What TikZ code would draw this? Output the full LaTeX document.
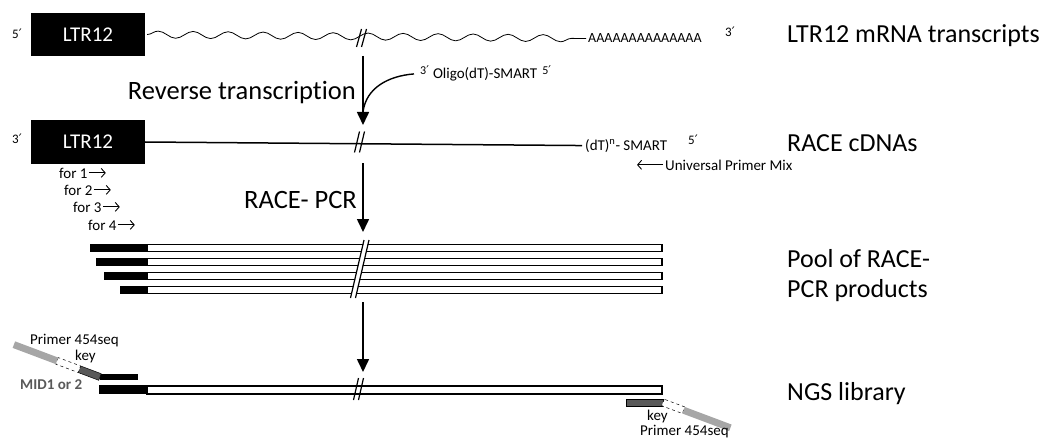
\documentclass[tikz,border=0pt]{standalone}
\usepackage{fontspec}
\setmainfont{Carlito}[Ligatures=NoCommon]
\newfontfamily\primefont{DejaVu Sans}
\newcommand{\prm}{{\primefont\char"2032}}
\usetikzlibrary{arrows.meta,decorations.pathmorphing}
\definecolor{adlight}{HTML}{A6A6A6}
\definecolor{addark}{HTML}{595959}
\begin{document}
\begin{tikzpicture}[x=1pt, y=-1pt, inner sep=0pt,
  ltrbox/.style={fill=black, text=white, minimum width=114pt, minimum height=43pt, font=\fontsize{21}{25}\selectfont},
  stagetitle/.style={anchor=base west, font=\fontsize{26}{30}\selectfont},
  steplabel/.style={anchor=base east, font=\fontsize{26.5}{30}\selectfont},
  lbl/.style={anchor=base west, font=\fontsize{15}{18}\selectfont},
  endlbl/.style={anchor=base west, font=\fontsize{13}{15}\selectfont},
  flow/.style={line width=1.6pt, -{Triangle[length=13pt, width=12pt]}},
  primer/.style={line width=0.9pt, -{Straight Barb[length=4pt, width=9pt]}},
  slash/.style={line width=1.2pt}]
  \useasboundingbox (0,0) rectangle (1049,441);
  % mRNA transcripts
  \node[ltrbox] (ltrA) at (88,34.5) {LTR12};
  \node[endlbl] (fiveA) at (12,39) {5\prm};
  \node[lbl, font=\fontsize{14}{16}\selectfont] (polyA) at (588,43) {AAAAAAAAAAAAAA};
  \node[endlbl] (threeA) at (725,37) {3\prm};
  \draw[line width=0.8pt, decorate, decoration={snake, segment length=35pt, amplitude=3.5pt}] ([xshift=2pt]ltrA.east) -- ([xshift=-2pt]polyA.west);
  \node[stagetitle] (tMrna) at (787,43) {LTR12 mRNA transcripts};
  % reverse transcription
  \coordinate (rtStart) at (363,56);
  \coordinate (rtEnd) at (363,125);
  \draw[flow] (rtStart) -- (rtEnd);
  \node[steplabel] (rtLabel) at (356,100) {Reverse transcription};
  \node[lbl, inner xsep=6pt] (oligo) at (414,79) {\raisebox{4pt}{\fontsize{12}{14}\selectfont 3\prm}\hspace{4pt}Oligo(dT)-SMART\hspace{5pt}\raisebox{4pt}{\fontsize{12}{14}\selectfont 5\prm}};
  \coordinate (oligoJoin) at (363,112);
  \draw[line width=1.4pt] (oligo.west) .. controls (388,76) and (366,88) .. (oligoJoin);
  % RACE cDNAs
  \node[ltrbox] (ltrB) at (88,142) {LTR12};
  \node[endlbl] (threeB) at (12,143) {3\prm};
  \node[lbl] (smart) at (585,150) {(dT)\textsuperscript{n}- SMART};
  \node[endlbl] (fiveB) at (688,145) {5\prm};
  \draw[line width=1.5pt] (ltrB.east) -- ([xshift=-3pt]smart.west);
  \node[stagetitle] (tCdna) at (787,151) {RACE cDNAs};
  \node[lbl] (upm) at (665,170) {Universal Primer Mix};
  \draw[primer] ([xshift=-2pt]upm.west) -- ++(-26,0);
  \foreach \n/\x/\y in {1/59/178, 2/64/195, 3/73/212, 4/88/230} {
    \node[lbl] (for\n) at (\x,\y) {for \n};
    \draw[primer] ([xshift=1pt]for\n.east) -- ++(17,0);
  }
  % RACE-PCR
  \coordinate (pcrStart) at (363,163);
  \coordinate (pcrEnd) at (363,232);
  \draw[flow] (pcrStart) -- (pcrEnd);
  \node[steplabel] (pcrLabel) at (357,208) {RACE- PCR};
  % pool of products
  \foreach \y/\s in {248/90, 262/96, 276/104, 290/120} {
    \fill (\s,\y-4) rectangle (147,\y+4);
    \draw[line width=1.4pt, fill=white] (147,\y-3.5) rectangle (662,\y+3.5);
  }
  \draw[white, line width=4pt] (366.5,240) -- (353,298);
  \draw[slash] (364,240) -- (350.5,298);
  \draw[slash] (369,240) -- (355.5,298);
  \node[stagetitle, align=left, anchor=west] (tPool) at (787,276) {Pool of RACE-\\PCR products};
  % library
  \coordinate (libStart) at (363,302);
  \coordinate (libEnd) at (363,372);
  \draw[flow] (libStart) -- (libEnd);
  \fill (99,385) rectangle (147,394);
  \draw[line width=1.4pt, fill=white] (147,386) rectangle (662,394);
  \fill (100,374) rectangle (138,380);
  \begin{scope}[shift={(100,377)}, rotate=-20.6]
    \filldraw[fill=addark, draw=black, line width=0.5pt] (-22,-3.5) rectangle (0,3.5);
    \draw[dashed, line width=0.5pt, fill=white] (-46,-3.5) rectangle (-22,3.5);
    \fill[adlight] (-92,-3.5) rectangle (-46,3.5);
  \end{scope}
  \filldraw[fill=addark, draw=black, line width=0.5pt] (626,399) rectangle (663,406);
  \begin{scope}[shift={(663,402.5)}, rotate=-20.6]
    \draw[dashed, line width=0.5pt, fill=white] (0,-3.5) rectangle (22,3.5);
    \fill[adlight] (22,-3.5) rectangle (72,3.5);
  \end{scope}
  \node[lbl] (seqL) at (30,344) {Primer 454seq};
  \node[lbl] (keyL) at (75,360) {key};
  \node[lbl, font=\fontsize{15}{18}\selectfont\bfseries, text=addark] (mid) at (20,389) {MID1 or 2};
  \node[lbl] (keyR) at (647,420) {key};
  \node[lbl] (seqR) at (640,435) {Primer 454seq};
  \node[stagetitle] (tNgs) at (787,400) {NGS library};
  % cut marks
  \foreach \x/\y/\h in {362/38/18, 360/142/21, 359/389/22} {
    \draw[slash] (\x-5.5,\y+\h/2) -- (\x-0.5,\y-\h/2);
    \draw[slash] (\x-0.5,\y+\h/2) -- (\x+4.5,\y-\h/2);
  }
\end{tikzpicture}
\end{document}
